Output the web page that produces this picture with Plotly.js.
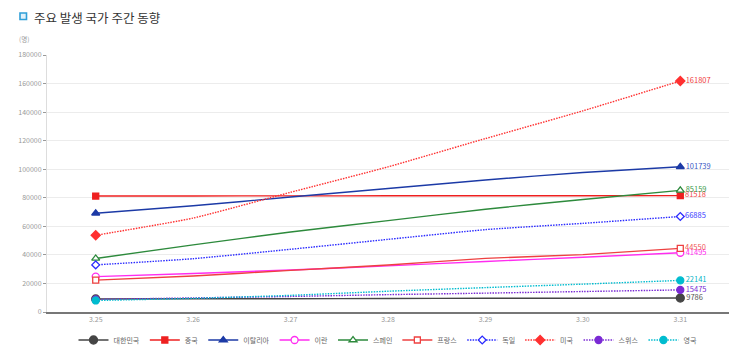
<!DOCTYPE html>
<html>
<head>
<meta charset="utf-8">
<script src="https://cdn.plot.ly/plotly-3.0.1.min.js"></script>
<style>
  html, body { margin: 0; padding: 0; background: #fff; }
  #chart { width: 743px; height: 353px; }
</style>
</head>
<body>
<div id="chart"></div>
<script>
const dates = ['3.25', '3.26', '3.27', '3.28', '3.29', '3.30', '3.31'];
const seriesNames = ['대한민국', '중국', '이탈리아', '이란', '스페인', '프랑스', '독일', '미국', '스위스', '영국'];
const korea = [9137, 9241, 9332, 9478, 9583, 9661, 9786];
const china = [81218, 81285, 81340, 81394, 81439, 81470, 81518];
const italy = [69176, 74386, 80539, 86498, 92472, 97689, 101739];
const iran = [24811, 27017, 29406, 32332, 35408, 38309, 41495];
const spain = [37500, 47000, 56000, 64000, 72000, 78800, 85159];
const france = [22304, 25233, 29155, 32964, 37575, 40174, 44550];
const germany = [32986, 37323, 43938, 50871, 57695, 62095, 66885];
const usa = [53740, 65778, 83836, 101657, 121478, 140886, 161807];
const swiss = [8795, 9877, 10897, 12161, 13213, 14336, 15475];
const uk = [8077, 9529, 11658, 14543, 17089, 19522, 22141];
const yTicks = [0, 20000, 40000, 60000, 80000, 100000, 120000, 140000, 160000, 180000];

const seriesValues = [korea, china, italy, iran, spain, france, germany, usa, swiss, uk];
const DOT = '1.5px,1.2px';
const styles = [
  {color: '#454545', dash: 'solid', symbol: 'circle', fill: '#454545', size: 8, text: '#555555'},
  {color: '#ee2020', dash: 'solid', symbol: 'square', fill: '#ee2020', size: 6, text: '#f04848'},
  {color: '#1c3aa6', dash: 'solid', symbol: 'triangle-up', fill: '#1c3aa6', size: 7, text: '#3a57c4'},
  {color: '#ff2cf0', dash: 'solid', symbol: 'circle', fill: '#ffffff', size: 7, text: '#ff2cf0'},
  {color: '#2d8a3c', dash: 'solid', symbol: 'triangle-up', fill: '#ffffff', size: 7, text: '#3b9a4b'},
  {color: '#ee4040', dash: 'solid', symbol: 'square', fill: '#ffffff', size: 6, text: '#f05858'},
  {color: '#2a2aff', dash: DOT, symbol: 'diamond', fill: '#ffffff', size: 6, text: '#3a3aff'},
  {color: '#ff3030', dash: DOT, symbol: 'diamond', fill: '#ff3030', size: 7, text: '#f04040'},
  {color: '#7a2ad4', dash: DOT, symbol: 'circle', fill: '#7a2ad4', size: 7, text: '#7a2ad4'},
  {color: '#00bccf', dash: DOT, symbol: 'circle', fill: '#00bccf', size: 7, text: '#00b3c6'}
];

const traces = [];
seriesNames.forEach((name, i) => {
  const vals = seriesValues[i];
  const st = styles[i];
  const n = vals.length;
  traces.push({
    type: 'scatter', mode: 'lines', x: dates, y: vals, name: name,
    legendgroup: name, showlegend: false, hoverinfo: 'skip',
    line: {color: st.color, width: 1.4, dash: st.dash, shape: 'spline', smoothing: 0.5}
  });
  const endY = vals.map((v, k) => (k === 0 || k === n - 1) ? v : null);
  const endText = vals.map((v, k) => (k === n - 1) ? String(v) : '');
  traces.push({
    type: 'scatter', mode: 'lines+markers+text', x: dates, y: endY, name: name,
    legendgroup: name, connectgaps: false,
    text: endText, textposition: 'middle right',
    textfont: {family: 'Noto Sans CJK KR, Noto Sans, sans-serif', size: 7.5, color: st.text},
    line: {color: st.color, width: 1.4, dash: st.dash},
    marker: {symbol: st.symbol, size: st.size, color: st.fill, line: {color: st.color, width: 1.3}}
  });
});

const PW = 682, PH = 257, PL = 47, PB = 312;
const px = x => (x - PL) / PW;
const py = y => (PB - y) / PH;

const layout = {
  width: 743, height: 353,
  margin: {l: 47, r: 14, t: 55, b: 41, autoexpand: false},
  paper_bgcolor: '#ffffff', plot_bgcolor: '#ffffff',
  font: {family: 'Noto Sans CJK KR, Noto Sans, sans-serif', size: 7, color: '#888888'},
  showlegend: true,
  legend: {
    orientation: 'h', x: 0.5, xanchor: 'center', y: py(340), yanchor: 'middle',
    itemwidth: 30, font: {size: 7, color: '#666666'}, bgcolor: 'rgba(0,0,0,0)'
  },
  xaxis: {
    type: 'category', range: [-0.5, 6.5], showgrid: false, zeroline: false,
    showline: true, linecolor: '#777777', linewidth: 1.5,
    ticks: '', tickfont: {size: 7, color: '#999999'}, fixedrange: true
  },
  yaxis: {
    range: [0, 180000], tickvals: yTicks, ticktext: yTicks.map(String),
    showgrid: true, gridcolor: '#ececec', gridwidth: 1, zeroline: false,
    showline: true, linecolor: '#dddddd', linewidth: 1,
    ticks: 'outside', ticklen: 3, tickcolor: '#999999',
    tickfont: {size: 7, color: '#999999'}, fixedrange: true
  },
  shapes: [
    {type: 'rect', xref: 'paper', yref: 'paper',
     x0: px(20), x1: px(26.5), y0: py(19.5), y1: py(13),
     line: {color: '#2f9fd8', width: 1.6}, fillcolor: '#dff1fb'}
  ],
  annotations: [
    {xref: 'paper', yref: 'paper', x: px(32), y: py(17), xanchor: 'left', yanchor: 'middle',
     showarrow: false, text: '주요 발생 국가 주간 동향',
     font: {family: 'Noto Sans CJK KR, sans-serif', size: 12.5, color: '#333333'}},
    {xref: 'paper', yref: 'paper', x: px(17), y: py(39), xanchor: 'left', yanchor: 'middle',
     showarrow: false, text: '(명)',
     font: {family: 'Noto Sans CJK KR, sans-serif', size: 6.5, color: '#999999'}}
  ]
};

Plotly.newPlot('chart', traces, layout, {displayModeBar: false, staticPlot: true});
</script>
</body>
</html>
